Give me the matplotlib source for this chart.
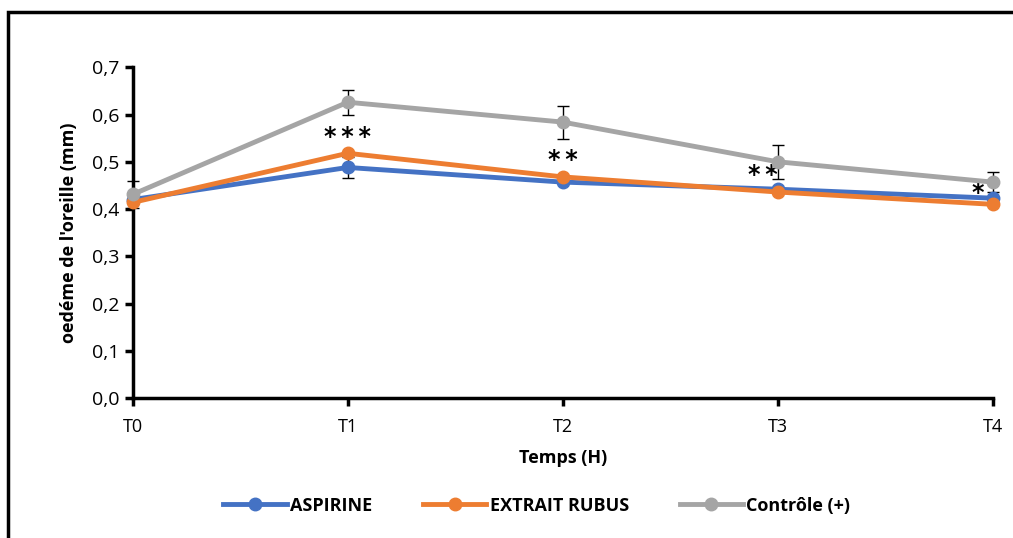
import matplotlib
matplotlib.use('Agg')
import matplotlib.pyplot as plt
from matplotlib.patches import Rectangle
from matplotlib.lines import Line2D

temps = ['T0', 'T1', 'T2', 'T3', 'T4']
aspirine = [0.420, 0.488, 0.457, 0.442, 0.423]
aspirine_err = [0.0, 0.023, 0.0, 0.0, 0.0]
extrait = [0.414, 0.518, 0.468, 0.436, 0.410]
extrait_err = [0.0, 0.0, 0.0, 0.0, 0.0]
controle = [0.431, 0.626, 0.584, 0.500, 0.457]
controle_err = [0.028, 0.026, 0.035, 0.036, 0.021]
etoiles = ['', '*\u2009*\u2009*', '*\u2009*', '*\u2009*', '*']
etoiles_y = [0, 0.553, 0.503, 0.472, 0.434]
etoiles_dx = [0, 0, 0, -0.07, -0.07]

plt.rcParams['font.family'] = ['Open Sans', 'DejaVu Sans']

fig = plt.figure(figsize=(10.13, 5.38), dpi=100)
ax = fig.add_axes([0.131, 0.260, 0.849, 0.615])

x = list(range(len(temps)))
series = [
    (aspirine, aspirine_err, '#4472C4', 'ASPIRINE'),
    (extrait, extrait_err, '#ED7D31', 'EXTRAIT RUBUS'),
    (controle, controle_err, '#A5A5A5', 'Contrôle (+)'),
]
handles = []
for vals, err, col, lab in series:
    ax.errorbar(x, vals, yerr=err, color=col, lw=3.5, marker='o', ms=9,
                ecolor='black', elinewidth=1, capsize=4, capthick=1, zorder=3)
    handles.append(Line2D([], [], color=col, lw=3.5, marker='o', ms=9, label=lab))

for i, s in enumerate(etoiles):
    if s:
        ax.text(i + etoiles_dx[i], etoiles_y[i], s, ha='center', va='center',
                fontsize=17, fontweight='bold', family='DejaVu Sans')

ax.set_xlim(0, 4)
ax.set_ylim(0, 0.7)
ax.set_xticks(x)
ax.set_xticklabels(temps, fontsize=13)
ax.set_yticks([i / 10 for i in range(8)])
ax.set_yticklabels([f'{i / 10:.1f}'.replace('.', ',') for i in range(8)], fontsize=14)
ax.spines['top'].set_visible(False)
ax.spines['right'].set_visible(False)
ax.spines['left'].set_linewidth(2.5)
ax.spines['bottom'].set_linewidth(2.5)
ax.tick_params(axis='y', length=6, width=2.5, direction='out')
ax.tick_params(axis='x', length=6, width=2.5, direction='out', pad=8)
for art in ax.get_children():
    art.set_clip_on(False)

ax.set_xlabel('Temps (H)', fontsize=13, fontweight='bold', labelpad=10)
ax.set_ylabel("oedéme de l'oreille (mm)", fontsize=13, fontweight='bold', labelpad=10)

fig.legend(handles=handles, loc='center', bbox_to_anchor=(0.53, 0.06), ncol=3, frameon=False,
           prop={'weight': 'bold', 'size': 13}, handlelength=3.5,
           columnspacing=2.8, handletextpad=0.2)

fig.patches.append(Rectangle((0.008, -0.1), 1.2, 1.078, transform=fig.transFigure,
                             fill=False, edgecolor='black', linewidth=2.5))

fig.savefig('out.png', dpi=100)
